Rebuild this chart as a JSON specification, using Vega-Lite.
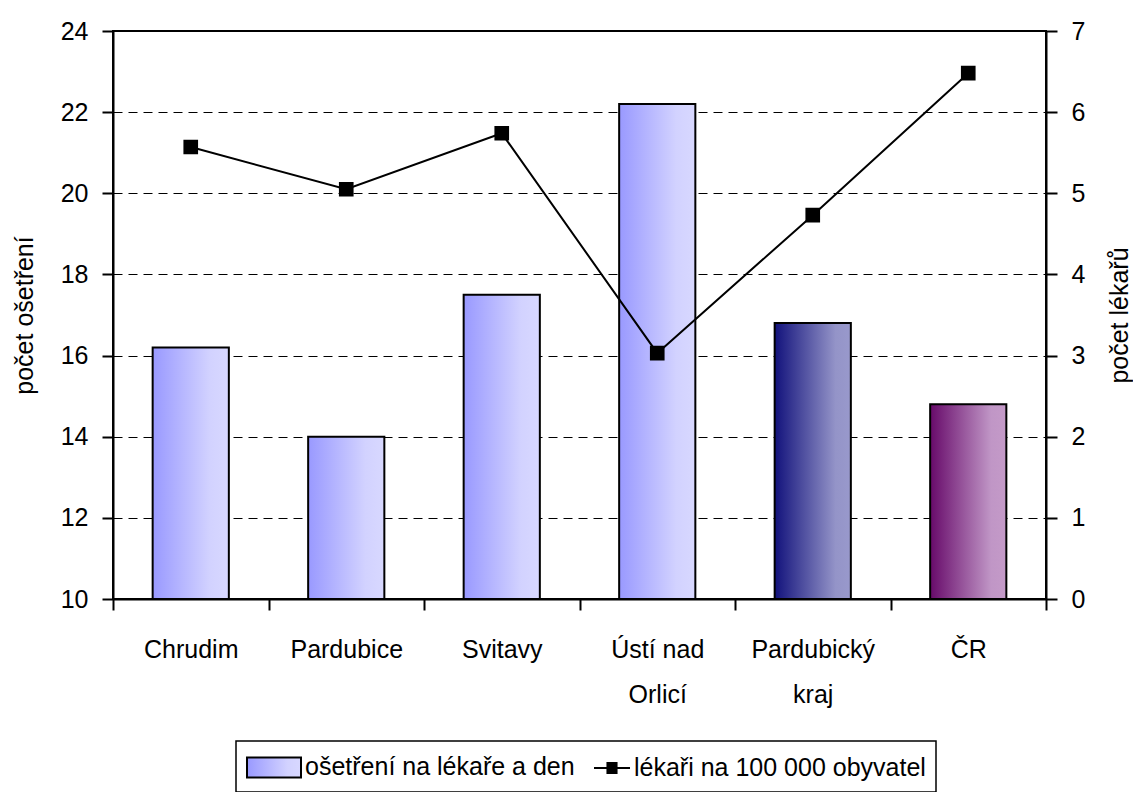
{
  "$schema": "https://vega.github.io/schema/vega-lite/v6.json",
  "width": 933,
  "height": 568,
  "autosize": {"type": "none"},
  "padding": {"left": 113, "top": 31, "right": 87, "bottom": 193},
  "background": "white",
  "config": {
    "font": "Liberation Sans",
    "view": {"stroke": "black", "strokeWidth": 2},
    "axis": {
      "labelFont": "Liberation Sans",
      "labelFontSize": 25,
      "labelColor": "black",
      "titleFont": "Liberation Sans",
      "titleFontSize": 25,
      "titleFontWeight": "normal",
      "titleColor": "black",
      "domainColor": "black",
      "domainWidth": 2,
      "tickColor": "black",
      "tickWidth": 2,
      "tickSize": 11
    }
  },
  "data": {
    "values": [
      {"kraj": "Chrudim", "osetreni": 16.2, "lekari": 5.57},
      {"kraj": "Pardubice", "osetreni": 14.0, "lekari": 5.05},
      {"kraj": "Svitavy", "osetreni": 17.5, "lekari": 5.74},
      {"kraj": "Ústí nad Orlicí", "osetreni": 22.2, "lekari": 3.03},
      {"kraj": "Pardubický kraj", "osetreni": 16.8, "lekari": 4.73},
      {"kraj": "ČR", "osetreni": 14.8, "lekari": 6.48}
    ]
  },
  "encoding": {
    "x": {
      "field": "kraj",
      "type": "nominal",
      "sort": null,
      "scale": {"paddingInner": 0, "paddingOuter": 0},
      "axis": {
        "title": null,
        "labelAngle": 0,
        "tickBand": "extent",
        "grid": false,
        "labelPadding": 27,
        "labelLineHeight": 45,
        "labelExpr": "datum.value === 'Ústí nad Orlicí' ? ['Ústí nad', 'Orlicí'] : datum.value === 'Pardubický kraj' ? ['Pardubický', 'kraj'] : datum.value"
      }
    }
  },
  "layer": [
    {
      "mark": {"type": "bar", "width": {"band": 0.49}, "stroke": "black", "strokeWidth": 2},
      "encoding": {
        "y": {
          "field": "osetreni",
          "type": "quantitative",
          "scale": {"domain": [10, 24], "zero": false, "nice": false},
          "axis": {
            "orient": "left",
            "values": [10, 12, 14, 16, 18, 20, 22, 24],
            "grid": true,
            "gridColor": "black",
            "gridDash": [9, 6],
            "gridWidth": 1,
            "labelPadding": 14,
            "title": "počet ošetření",
            "titleX": -89,
            "titleY": 284,
            "titleAngle": -90,
            "titleAlign": "center",
            "titleBaseline": "middle"
          }
        },
        "y2": {"datum": 10},
        "fill": {
          "condition": [
            {
              "test": "datum.kraj === 'Pardubický kraj'",
              "value": {"gradient": "linear", "x1": 0, "y1": 0, "x2": 1, "y2": 0, "stops": [{"offset": 0, "color": "#12127C"}, {"offset": 0.8, "color": "#9494C8"}, {"offset": 1, "color": "#9999CC"}]}
            },
            {
              "test": "datum.kraj === 'ČR'",
              "value": {"gradient": "linear", "x1": 0, "y1": 0, "x2": 1, "y2": 0, "stops": [{"offset": 0, "color": "#670A6A"}, {"offset": 0.8, "color": "#C096C6"}, {"offset": 1, "color": "#C49AC8"}]}
            }
          ],
          "value": {"gradient": "linear", "x1": 0, "y1": 0, "x2": 1, "y2": 0, "stops": [{"offset": 0, "color": "#9999FF"}, {"offset": 0.75, "color": "#D2D2FF"}, {"offset": 1, "color": "#D8D8FF"}]}
        }
      }
    },
    {
      "mark": {
        "type": "line",
        "strokeWidth": 2,
        "color": "black",
        "point": {"shape": "square", "size": 160, "filled": true, "opacity": 1, "color": "black"}
      },
      "encoding": {
        "y": {
          "field": "lekari",
          "type": "quantitative",
          "scale": {"domain": [0, 7], "zero": false, "nice": false},
          "axis": {
            "orient": "right",
            "values": [0, 1, 2, 3, 4, 5, 6, 7],
            "grid": false,
            "labelPadding": 14,
            "title": "počet lékařů",
            "titleX": 73,
            "titleY": 284,
            "titleAngle": -90,
            "titleAlign": "center",
            "titleBaseline": "middle"
          }
        },
        "stroke": {
          "datum": "lékaři na 100 000 obyvatel",
          "scale": {"domain": ["ošetření na lékaře a den", "lékaři na 100 000 obyvatel"], "range": ["black", "black"]},
          "legend": {
            "orient": "none",
            "legendX": 123,
            "legendY": 710,
            "direction": "horizontal",
            "title": null,
            "strokeColor": "black",
            "fillColor": "white",
            "padding": 10,
            "labelFont": "Liberation Sans",
            "labelFontSize": 25,
            "labelColor": "black",
            "labelLimit": 500,
            "labelOffset": 27,
            "columnPadding": 0,
            "symbolSize": 900,
            "encode": {
              "legend": {
                "update": {
                  "stroke": {"value": "black"},
                  "strokeWidth": {"value": 1.5}
                }
              },
              "symbols": {
                "update": {
                  "shape": {"signal": "datum.index === 0 ? 'M-1,-0.67H2.6V0.67H-1Z' : 'M0.2,0H2.6M1.03,-0.33H1.77M1.03,-0.22H1.77M1.03,-0.11H1.77M1.03,0.11H1.77M1.03,0.22H1.77M1.03,0.33H1.77'"},
                  "fill": {"value": {"gradient": "linear", "x1": 0, "y1": 0, "x2": 1, "y2": 0, "stops": [{"offset": 0, "color": "#9999FF"}, {"offset": 0.75, "color": "#D2D2FF"}, {"offset": 1, "color": "#D8D8FF"}]}},
                  "strokeWidth": {"value": 2},
                  "opacity": {"value": 1},
                  "fillOpacity": {"value": 1},
                  "strokeOpacity": {"value": 1}
                }
              }
            }
          }
        }
      }
    }
  ],
  "resolve": {"scale": {"y": "independent"}}
}
